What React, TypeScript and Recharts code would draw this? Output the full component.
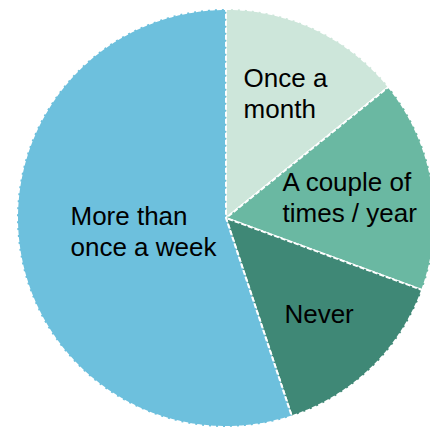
import { PieChart, Pie, Cell } from 'recharts';

const categories = ['Once a month', 'A couple of times / year', 'Never', 'More than once a week'];
const shares = [14.2, 16.4, 14.3, 55.1];
const labelLines = [['Once a', 'month'], ['A couple of', 'times / year'], ['Never'], ['More than', 'once a week']];

const colors = ['#cde6da', '#6ab8a2', '#3f8876', '#6dc0dd'];
// how far out along the slice's middle each label sits (share of radius)
const labelRadius = [0.66, 0.6, 0.64, 0.4];

const data = categories.map((name, i) => ({ name, value: shares[i] }));

const FONT = 26;
const LINE = 31;
const RAD = Math.PI / 180;

let ctx: CanvasRenderingContext2D | null = null;
const measure = (s: string) => {
  if (!ctx) ctx = document.createElement('canvas').getContext('2d');
  if (!ctx) return s.length * FONT * 0.5;
  ctx.font = `${FONT}px "Liberation Sans", Arial, sans-serif`;
  return ctx.measureText(s).width;
};

// biome-ignore lint/suspicious/noExplicitAny: <explanation>
const renderLabel = (p: any) => {
  const { cx, cy, midAngle, outerRadius, index } = p;
  const r = outerRadius * labelRadius[index];
  const x = cx + r * Math.cos(-midAngle * RAD);
  const y = cy + r * Math.sin(-midAngle * RAD);
  const lines = labelLines[index];
  const w = Math.max(...lines.map(measure));
  const top = y - (lines.length * LINE) / 2;
  return (
    <text
      x={x - w / 2}
      y={top}
      fill="#000"
      fontSize={FONT}
      fontFamily='"Liberation Sans", Arial, sans-serif'
      textAnchor="start"
    >
      {lines.map((l, i) => (
        <tspan key={l} x={x - w / 2} y={top + LINE * i + LINE * 0.8}>
          {l}
        </tspan>
      ))}
    </text>
  );
};

export default function App() {
  return (
    <div style={{ position: 'fixed', left: 0, top: 0, background: '#fff' }}>
      <PieChart width={430} height={428} margin={{ top: 0, right: 0, bottom: 0, left: 0 }}>
        <Pie
          data={data}
          dataKey="value"
          nameKey="name"
          cx={226}
          cy={218}
          outerRadius={209}
          startAngle={90}
          endAngle={-270}
          stroke="#fff"
          strokeWidth={2}
          strokeDasharray="5 2"
          label={renderLabel}
          labelLine={false}
          isAnimationActive={false}
        >
          {data.map((d, i) => (
            <Cell key={d.name} fill={colors[i]} />
          ))}
        </Pie>
      </PieChart>
    </div>
  );
}
